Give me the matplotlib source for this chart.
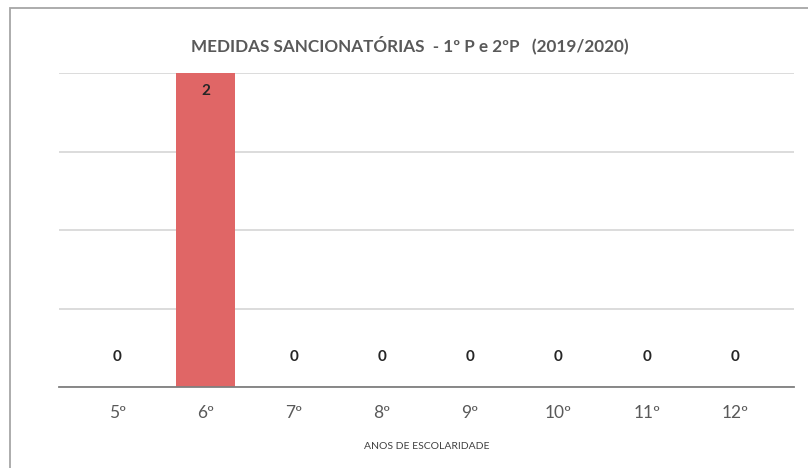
import matplotlib
matplotlib.use('Agg')
import matplotlib.pyplot as plt
from matplotlib.patches import Rectangle

anos = ['5º', '6º', '7º', '8º', '9º', '10º', '11º', '12º']
medidas = [0, 2, 0, 0, 0, 0, 0, 0]

plt.rcParams['font.family'] = ['Lato', 'DejaVu Sans']

fig = plt.figure(figsize=(8.08, 4.68), dpi=100)
ax = fig.add_axes([59 / 808, 1 - 387 / 468, 735 / 808, 314 / 468])

x = list(range(len(anos)))
ax.bar(x, medidas, width=0.66, color='#e06666', zorder=3)

for xi, v in zip(x, medidas):
    if v > 0:
        ax.annotate(str(v), (xi, v), xytext=(0, -8), textcoords='offset points',
                    ha='center', va='top', fontsize=11, fontweight='bold', color='#262626')
    else:
        ax.annotate(str(v), (xi, v), xytext=(0, 21.5), textcoords='offset points',
                    ha='center', va='center', fontsize=11, fontweight='bold', color='#262626')

ax.set_xlim(-0.66, 7.67)
ax.set_ylim(0, 2)
ax.set_yticks([0, 0.5, 1, 1.5, 2])
ax.yaxis.grid(True, color='#d9d9d9', linewidth=1.3, zorder=0)
ax.tick_params(axis='y', left=False, labelleft=False)
ax.tick_params(axis='x', length=0, labelsize=12.5, labelcolor='#595959', pad=13)
ax.set_xticks(x)
ax.set_xticklabels(anos)
for s in ['top', 'right', 'left']:
    ax.spines[s].set_visible(False)
ax.spines['bottom'].set_color('#7f7f7f')
ax.spines['bottom'].set_linewidth(1.3)
ax.spines['bottom'].set_zorder(4)

ax.set_xlabel('ANOS DE ESCOLARIDADE', fontsize=7.5, color='#404040', labelpad=15)
fig.text(410 / 808, 1 - 45 / 468, 'MEDIDAS SANCIONATÓRIAS  - 1º P e 2ºP   (2019/2020)',
         ha='center', va='center', fontsize=12.3, fontweight='bold', color='#595959')

fig.patches.append(Rectangle((10 / 808, -0.1), 1.2, 1 - 8 / 468 + 0.1,
                             transform=fig.transFigure, fill=False,
                             edgecolor='#a6a6a6', linewidth=1.3))

fig.savefig('out.png', dpi=100)
